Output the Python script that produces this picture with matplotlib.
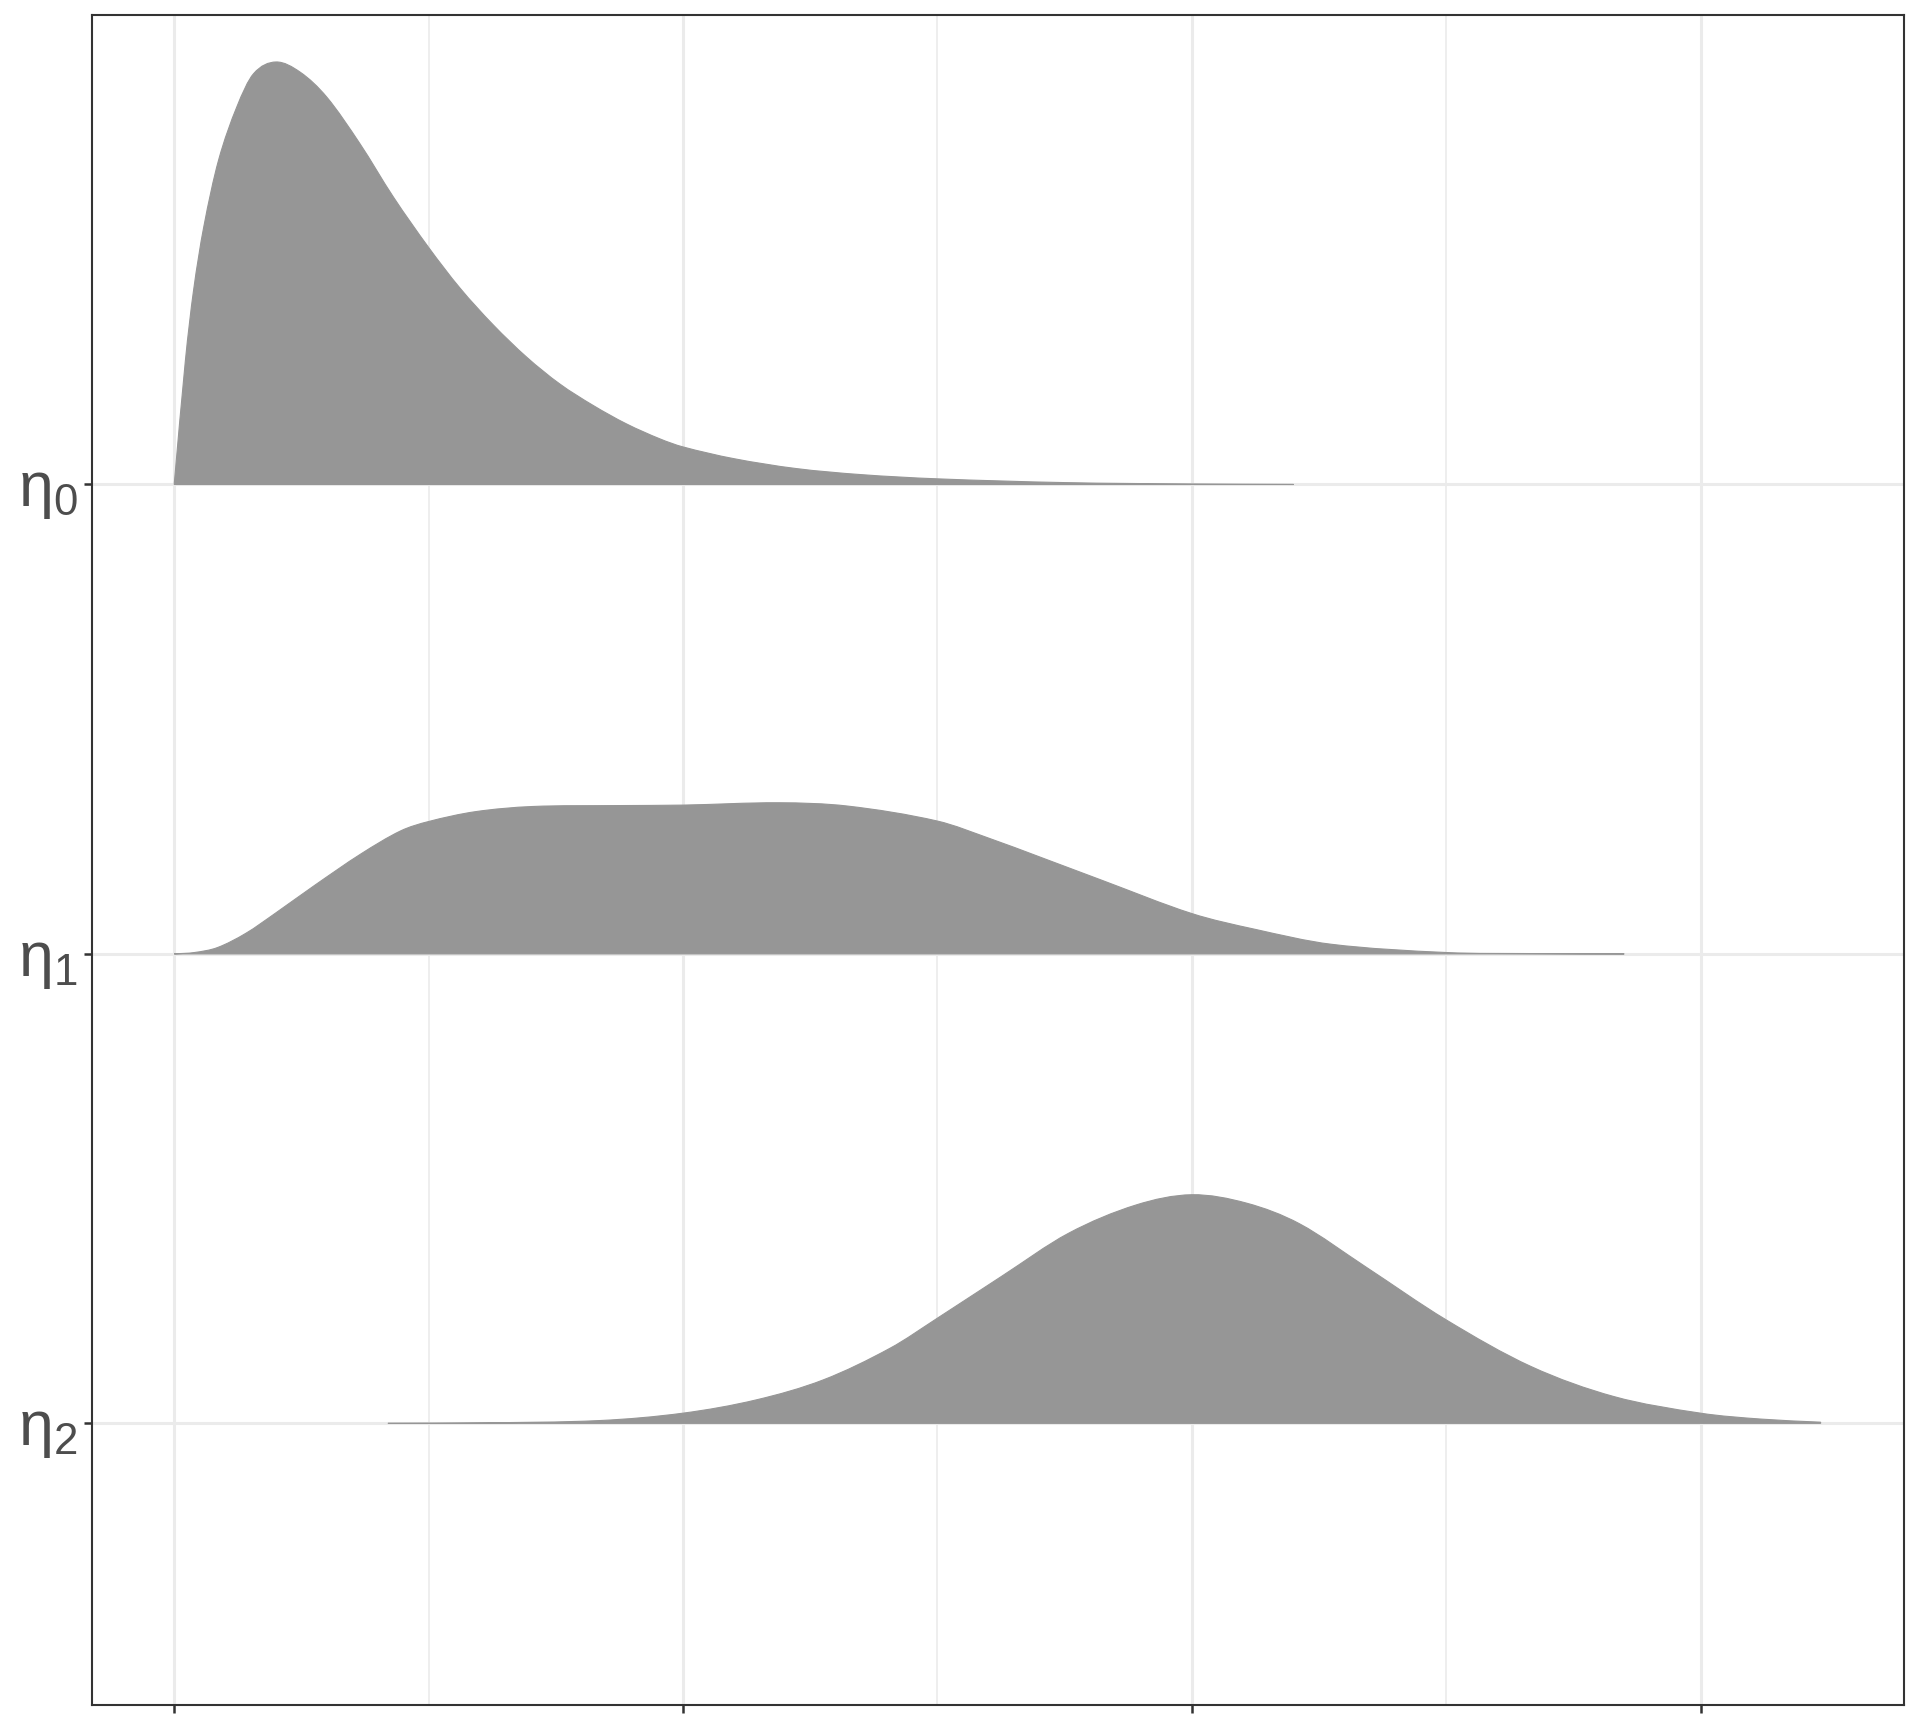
import matplotlib
matplotlib.use("Agg")
import matplotlib.pyplot as plt
from matplotlib.path import Path
from matplotlib.patches import PathPatch

# ridge labels, top to bottom
labels = [r"$\mathregular{\eta_0}$", r"$\mathregular{\eta_1}$", r"$\mathregular{\eta_2}$"]
levels = [3, 2, 1]

# density curves (x, scaled height)
x0 = [0, 0.022, 0.038, 0.058, 0.087, 0.123, 0.156, 0.200, 0.248, 0.300, 0.365,
      0.431, 0.500, 0.562, 0.627, 0.693, 0.758, 0.824, 0.889, 0.955, 1.0, 1.1,
      1.222, 1.35, 1.5, 1.75, 2.0, 2.2]
h0 = [0, 0.264, 0.413, 0.548, 0.690, 0.804, 0.875, 0.900, 0.878, 0.825, 0.726,
      0.612, 0.505, 0.418, 0.340, 0.271, 0.214, 0.168, 0.129, 0.097, 0.080, 0.055,
      0.034, 0.021, 0.012, 0.004, 0.001, 0.0]

x1 = [0, 0.04, 0.085, 0.141, 0.198, 0.276, 0.367, 0.445, 0.5, 0.592, 0.704,
      0.873, 1.0, 1.188, 1.323, 1.5, 1.605, 1.70, 1.823, 2.0, 2.124, 2.274,
      2.5, 2.675, 2.85]
h1 = [0, 0.003, 0.0135, 0.044, 0.086, 0.146, 0.213, 0.262, 0.282, 0.303, 0.314,
      0.316, 0.317, 0.322, 0.315, 0.283, 0.245, 0.207, 0.157, 0.086, 0.0525, 0.0206,
      0.003, 0.0007, 0.0]

x2 = [0.42, 0.6, 0.837, 1.0, 1.144, 1.276, 1.407, 1.5, 1.626, 1.758, 1.89, 2.0,
      2.108, 2.212, 2.341, 2.5, 2.667, 2.830, 3.0, 3.12, 3.236]
h2 = [0, 0.001, 0.006, 0.0217, 0.050, 0.0927, 0.160, 0.224, 0.313, 0.405, 0.465,
      0.487, 0.469, 0.425, 0.334, 0.2205, 0.121, 0.057, 0.0217, 0.009, 0.0025]

xs = [x0, x1, x2]
hs = [h0, h1, h2]

x_major = [0, 1, 2, 3]
x_minor = [0.5, 1.5, 2.5]

fill_col = "#969696"
grid_col = "#EBEBEB"


def slopes(x, y):
    # central-difference tangents for a smooth outline through the read points
    n = len(x)
    m = [0.0] * n
    m[0] = (y[1] - y[0]) / (x[1] - x[0])
    m[-1] = (y[-1] - y[-2]) / (x[-1] - x[-2])
    for i in range(1, n - 1):
        m[i] = (y[i + 1] - y[i - 1]) / (x[i + 1] - x[i - 1])
    return m


def ridge_path(x, h, base):
    y = [base + v for v in h]
    m = slopes(x, y)
    verts = [(x[0], base), (x[0], y[0])]
    codes = [Path.MOVETO, Path.LINETO]
    for i in range(len(x) - 1):
        dx = (x[i + 1] - x[i]) / 3
        c1 = max(base, y[i] + m[i] * dx)
        c2 = max(base, y[i + 1] - m[i + 1] * dx)
        verts += [(x[i] + dx, c1), (x[i + 1] - dx, c2), (x[i + 1], y[i + 1])]
        codes += [Path.CURVE4] * 3
    verts += [(x[-1], base), (x[0], base)]
    codes += [Path.LINETO, Path.CLOSEPOLY]
    return Path(verts, codes)


fig = plt.figure(figsize=(19.2, 17.28), dpi=100)
ax = fig.add_axes([0.0478, 0.0133, 0.9439, 0.978])

for x, h, lv in zip(xs, hs, levels):
    ax.add_patch(PathPatch(ridge_path(x, h, lv), facecolor=fill_col,
                           edgecolor=fill_col, lw=0.8, zorder=3))

ax.set_xlim(-0.162, 3.40)
ax.set_ylim(0.40, 4.0)

ax.set_xticks(x_major)
ax.set_xticks(x_minor, minor=True)
ax.set_xticklabels([])
ax.set_yticks(levels)
ax.set_yticklabels(labels, fontfamily="Liberation Sans", fontsize=45, color="#4D4D4D")

ax.grid(which="major", color=grid_col, lw=2.2, zorder=0)
ax.grid(which="minor", axis="x", color=grid_col, lw=1.2, zorder=0)
ax.set_axisbelow(True)

ax.tick_params(axis="both", which="major", length=6, width=1.8, color="#333333", pad=4)
ax.tick_params(axis="x", which="minor", length=0)
for s in ax.spines.values():
    s.set_color("#333333")
    s.set_linewidth(1.5)

fig.savefig("out.png", dpi=100)
